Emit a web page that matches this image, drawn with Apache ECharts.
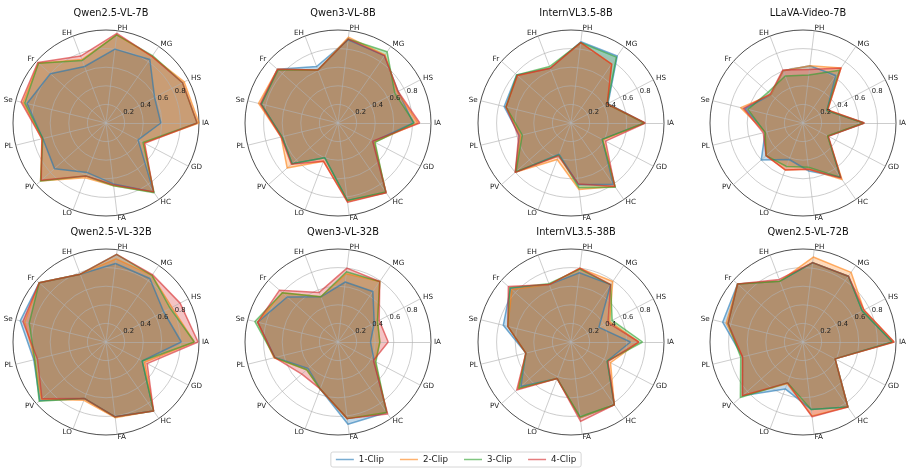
<!DOCTYPE html>
<html>
<head>
<meta charset="utf-8">
<script src="https://cdn.jsdelivr.net/npm/echarts@6/dist/echarts.min.js"></script>
<style>html,body{margin:0;padding:0;background:#fff}#c{width:912px;height:474px}</style>
</head>
<body>
<div id="c"></div>
<script>
// Axis order (counter-clockwise from the right)
const categories = ['IA','HS','MG','PH','EH','Fr','Se','PL','PV','LO','FA','HC','GD'];
const seriesNames = ['1-Clip','2-Clip','3-Clip','4-Clip'];
const modelTitles = ['Qwen2.5-VL-7B','Qwen3-VL-8B','InternVL3.5-8B','LLaVA-Video-7B',
                     'Qwen2.5-VL-32B','Qwen3-VL-32B','InternVL3.5-38B','Qwen2.5-VL-72B'];
const radialTicks = [0.2, 0.4, 0.6, 0.8];

// values per model: rows = 1-Clip..4-Clip, columns follow `categories`
const qwen25vl7b = [
  [0.59,0.59,0.83,0.80,0.65,0.80,0.875,0.70,0.74,0.57,0.66,0.90,0.39],
  [1.00,0.95,0.87,0.955,0.73,0.97,0.92,0.71,0.94,0.63,0.68,0.90,0.46],
  [0.98,0.93,0.88,0.955,0.72,0.97,0.90,0.70,0.94,0.61,0.68,0.91,0.45],
  [0.98,0.93,0.87,0.97,0.77,0.98,0.94,0.71,0.93,0.61,0.67,0.90,0.47]
];
const qwen3vl8b = [
  [0.81,0.73,0.88,0.90,0.65,0.87,0.85,0.62,0.66,0.40,0.84,0.91,0.43],
  [0.86,0.72,0.89,0.93,0.61,0.87,0.88,0.63,0.73,0.44,0.85,0.91,0.44],
  [0.82,0.69,0.93,0.91,0.61,0.86,0.85,0.62,0.66,0.40,0.84,0.90,0.45],
  [0.88,0.73,0.88,0.91,0.61,0.87,0.86,0.63,0.67,0.44,0.86,0.91,0.42]
];
const internvl35_8b = [
  [0.79,0.45,0.875,0.88,0.63,0.78,0.74,0.57,0.80,0.36,0.67,0.80,0.38],
  [0.79,0.44,0.77,0.87,0.63,0.77,0.72,0.56,0.80,0.42,0.72,0.83,0.39],
  [0.79,0.44,0.86,0.87,0.65,0.78,0.72,0.54,0.79,0.37,0.70,0.84,0.38],
  [0.80,0.44,0.77,0.87,0.63,0.77,0.72,0.58,0.80,0.38,0.66,0.83,0.42]
];
const llavavideo7b = [
  [0.66,0.29,0.62,0.62,0.60,0.46,0.64,0.42,0.60,0.42,0.52,0.71,0.30],
  [0.66,0.30,0.72,0.62,0.60,0.46,0.69,0.42,0.53,0.54,0.50,0.74,0.30],
  [0.65,0.29,0.69,0.52,0.54,0.50,0.61,0.42,0.53,0.50,0.48,0.71,0.30],
  [0.66,0.30,0.72,0.58,0.61,0.47,0.66,0.44,0.53,0.54,0.50,0.72,0.31]
];
const qwen25vl32b = [
  [0.81,0.70,0.83,0.85,0.78,0.96,0.95,0.80,0.95,0.65,0.81,0.90,0.44],
  [0.95,0.80,0.87,0.90,0.78,0.96,0.90,0.79,0.93,0.67,0.82,0.90,0.47],
  [0.95,0.78,0.87,0.95,0.78,0.96,0.85,0.79,0.96,0.65,0.81,0.90,0.44],
  [0.99,0.90,0.88,0.95,0.78,0.96,0.92,0.76,0.92,0.65,0.81,0.90,0.50]
];
const qwen3vl32b = [
  [0.35,0.44,0.66,0.65,0.52,0.73,0.89,0.70,0.43,0.54,0.89,0.92,0.44],
  [0.45,0.48,0.79,0.74,0.52,0.80,0.89,0.71,0.45,0.54,0.83,0.92,0.45],
  [0.45,0.48,0.79,0.76,0.52,0.80,0.92,0.70,0.45,0.54,0.83,0.92,0.46],
  [0.54,0.50,0.79,0.80,0.57,0.84,0.89,0.70,0.52,0.54,0.83,0.94,0.43]
];
const internvl35_38b = [
  [0.64,0.34,0.75,0.75,0.66,0.87,0.75,0.50,0.72,0.42,0.82,0.82,0.44],
  [0.73,0.47,0.79,0.80,0.66,0.85,0.70,0.50,0.76,0.42,0.82,0.82,0.48],
  [0.77,0.50,0.75,0.79,0.67,0.88,0.70,0.50,0.75,0.42,0.81,0.82,0.44],
  [0.73,0.45,0.75,0.80,0.66,0.90,0.70,0.50,0.78,0.42,0.86,0.82,0.45]
];
const qwen25vl72b = [
  [0.96,0.72,0.86,0.86,0.70,0.94,0.89,0.67,0.87,0.54,0.73,0.85,0.39],
  [0.98,0.74,0.91,0.92,0.70,0.94,0.85,0.67,0.87,0.48,0.80,0.85,0.39],
  [0.96,0.72,0.86,0.86,0.70,0.94,0.83,0.69,0.90,0.47,0.73,0.85,0.39],
  [0.98,0.74,0.86,0.86,0.72,0.94,0.83,0.67,0.87,0.47,0.81,0.85,0.39]
];
const modelData = [qwen25vl7b, qwen3vl8b, internvl35_8b, llavavideo7b,
                   qwen25vl32b, qwen3vl32b, internvl35_38b, qwen25vl72b];

const colors = ['#1f77b4','#ff7f0e','#2ca02c','#d62728'];
const lineColors = ['rgba(31,119,180,0.6)','rgba(255,127,14,0.6)','rgba(44,160,44,0.6)','rgba(214,39,40,0.6)'];
const FONT = 'DejaVu Sans';
const colX = [106, 338, 571, 803];
const rowY = [123, 342];
const R = 93;
const gridColor = 'rgba(176,176,176,0.8)';

const radar = [], polar = [], angleAxis = [], radiusAxis = [], title = [], series = [];
modelTitles.forEach((t, m) => {
  const cx = colX[m % 4], cy = rowY[Math.floor(m / 4)];
  title.push({
    text: t, left: cx, top: cy - R - 27, textAlign: 'center',
    textStyle: {fontFamily: FONT, fontSize: 9.8, fontWeight: 'normal', color: '#111'}
  });
  radar.push({
    center: [cx, cy], radius: R, startAngle: 0, shape: 'circle', splitNumber: 5, z: 2,
    indicator: categories.map(n => ({name: n, min: 0, max: 1})),
    axisName: {color: '#222', fontFamily: FONT, fontSize: 7.2},
    nameGap: 3,
    axisLine: {lineStyle: {color: gridColor, width: 0.8}},
    axisTick: {show: false},
    axisLabel: {show: false},
    splitLine: {lineStyle: {color: [gridColor, gridColor, gridColor, gridColor, gridColor, '#222'], width: 0.8}},
    splitArea: {show: false}
  });
  polar.push({center: [cx, cy], radius: R, z: 5});
  angleAxis.push({polarIndex: m, type: 'value', min: 0, max: 360, startAngle: 22.5, show: false});
  radiusAxis.push({
    polarIndex: m, type: 'value', min: 0, max: 1, interval: 0.2, z: 5,
    axisLine: {show: false}, axisTick: {show: false}, splitLine: {show: false},
    axisLabel: {
      show: true, margin: 0, align: 'left', verticalAlign: 'bottom',
      fontFamily: FONT, fontSize: 6.8, color: '#222',
      formatter: v => radialTicks.some(x => Math.abs(x - v) < 1e-6) ? v.toFixed(1) : ''
    }
  });
  const rows = modelData[m];
  series.push({
    type: 'radar', radarIndex: m, z: 1, symbol: 'none', silent: true,
    data: rows.map((vals, s) => ({
      name: seriesNames[s], value: vals,
      lineStyle: {opacity: 0},
      areaStyle: {color: colors[s], opacity: 0.28},
      itemStyle: {color: colors[s]}
    }))
  });
  series.push({
    type: 'radar', radarIndex: m, z: 3, symbol: 'none', silent: true,
    data: rows.map((vals, s) => ({
      name: seriesNames[s], value: vals,
      lineStyle: {color: lineColors[s], width: 1.5},
      itemStyle: {color: colors[s]}
    }))
  });
});

const chart = echarts.init(document.getElementById('c'), null, {renderer: 'canvas'});
chart.setOption({
  animation: false,
  backgroundColor: '#fff',
  title, radar, polar, angleAxis, radiusAxis, series,
  legend: {
    top: 452, left: 'center',
    data: seriesNames.map((n, i) => ({name: n, icon: 'rect', itemStyle: {color: lineColors[i], borderWidth: 0}})),
    itemWidth: 18, itemHeight: 1.5, itemGap: 16,
    textStyle: {fontFamily: FONT, fontSize: 8.7, color: '#222'},
    borderColor: '#ccc', borderWidth: 0.8, borderRadius: 2, padding: [3, 5],
    selectedMode: false
  }
});
</script>
</body>
</html>
